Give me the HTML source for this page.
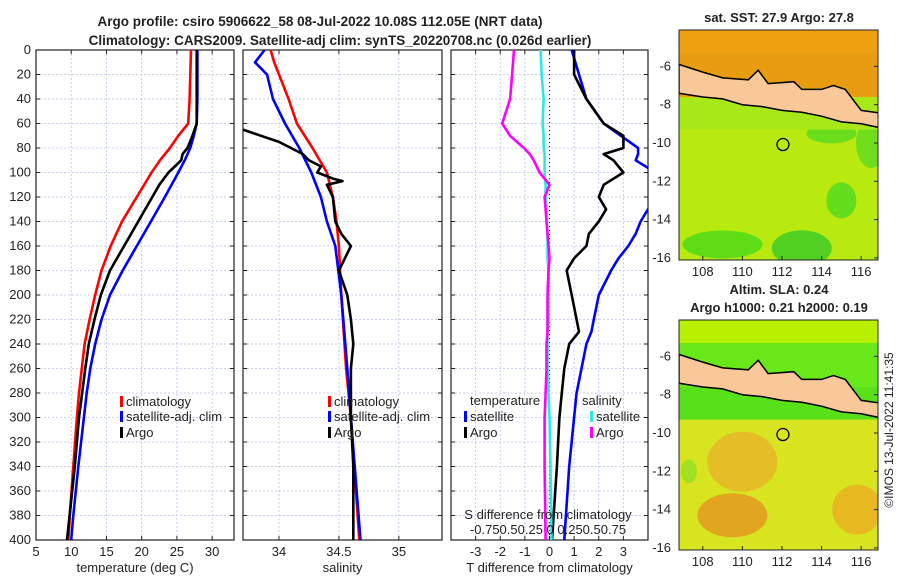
<!DOCTYPE html>
<html><head><meta charset="utf-8"><style>
body{margin:0;background:#fff}
svg{display:block;font-family:"Liberation Sans","DejaVu Sans",sans-serif}
</style></head><body>
<svg id="c" width="900" height="580" xmlns="http://www.w3.org/2000/svg"></svg>
<script>
// ---- data ----
const tDepth = [0,20,40,60,70,80,90,100,120,140,160,180,200,220,240,260,280,300,340,380,400];
const tClim  = [27.0,26.9,26.8,26.6,25.2,24.0,22.6,21.4,19.3,17.2,15.6,14.3,13.4,12.6,11.9,11.5,11.1,10.8,10.3,9.8,9.6];
const tSat   = [27.9,27.9,27.9,27.8,27.4,26.9,26.1,25.2,23.3,21.3,19.3,17.3,15.5,14.3,13.4,12.7,12.2,11.8,11.0,10.3,10.0];
const argoTDepth = [0,20,40,60,70,80,85,90,100,110,120,140,160,180,200,220,240,260,300,340,400];
const argoT  = [27.8,27.8,27.8,27.8,27.2,26.5,25.8,25.6,23.8,22.5,21.5,19.5,17.5,15.5,14.2,13.3,12.5,12.0,11.1,10.5,9.4];
const sDepth = [0,10,20,40,60,80,100,120,140,160,200,260,300,400];
const sClim  = [33.93,33.96,34.0,34.08,34.15,34.28,34.40,34.45,34.48,34.50,34.52,34.56,34.60,34.67];
const sSat   = [33.88,33.80,33.9,33.95,34.05,34.17,34.27,34.35,34.40,34.47,34.52,34.57,34.60,34.68];
const argoSDepth = [65,70,75,80,85,90,95,100,105,107,110,120,140,150,160,170,180,200,220,240,260,300,340,400];
const argoS  = [33.7,33.85,34.0,34.1,34.2,34.25,34.35,34.32,34.45,34.53,34.4,34.45,34.47,34.52,34.6,34.55,34.5,34.57,34.6,34.62,34.6,34.6,34.62,34.62];
const dDepth = [0,20,40,60,70,80,85,90,100,110,120,130,140,150,160,170,180,200,220,230,240,260,280,300,340,400];
const dTSat  = [0.9,1.2,1.5,2.2,2.9,3.6,3.6,3.5,4.3,4.6,4.4,4.0,3.7,3.5,3.2,2.8,2.5,2.0,1.8,1.7,1.5,1.3,1.1,1.0,0.8,0.6];
const dTArgo = [1.0,1.0,1.5,2.2,3.0,3.0,2.2,2.6,3.0,2.2,2.0,2.3,2.0,1.6,1.5,1.0,0.7,0.9,1.1,1.2,0.8,0.6,0.5,0.4,0.3,0.1];
const dSSat  = [-0.09,-0.08,-0.06,-0.07,-0.06,-0.06,-0.05,-0.05,-0.05,-0.04,-0.04,-0.03,-0.03,-0.02,-0.02,-0.02,-0.01,-0.01,-0.01,-0.02,-0.02,-0.02,-0.01,0.0,0.01,0.02];
const dSArgo = [-0.36,-0.38,-0.4,-0.48,-0.4,-0.26,-0.2,-0.16,-0.1,0.0,-0.05,-0.04,-0.03,-0.02,-0.01,0.0,-0.01,-0.02,-0.02,-0.02,-0.03,-0.03,-0.04,-0.05,-0.05,-0.04];
const depthTicks = [0,20,40,60,80,100,120,140,160,180,200,220,240,260,280,300,320,340,360,380,400];
const tTicks = [5,10,15,20,25,30];
const sTicks = [34,34.5,35];
const dTTicks = [-3,-2,-1,0,1,2,3];
const latTicks = [-6,-8,-10,-12,-14,-16];
const lonTicks = [108,110,112,114,116];

const svg=document.getElementById('c');
const NS='http://www.w3.org/2000/svg';
function mk(tag,attrs,name,parent){const e=document.createElementNS(NS,tag);for(const k in attrs)e.setAttribute(k,attrs[k]);


(parent||svg).appendChild(e);return e;}
function txt(x,y,s,name,o){o=o||{};const t=mk('text',{x:x,y:y,'font-size':o.fs||13,'text-anchor':o.a||'middle','font-weight':o.b?'bold':'normal',fill:'#222'},name);if(o.tr)t.setAttribute('transform',o.tr);t.textContent=s;return t;}

const Y0=50,Y1=540;
const yD=d=>Y0+(d/400)*(Y1-Y0);
function panel(x0,x1,xmin,xmax,xticks,label,name){
  const g=mk('g',{},name);
  const xs=v=>x0+(v-xmin)/(xmax-xmin)*(x1-x0);
  depthTicks.forEach(d=>{mk('line',{x1:x0,x2:x1,y1:yD(d),y2:yD(d),stroke:'#b8c4e8','stroke-dasharray':'2,2','stroke-width':0.8},'grid-line-y',g);
    mk('line',{x1:x0,x2:x0+4,y1:yD(d),y2:yD(d),stroke:'#222'},'y-tick',g);mk('line',{x1:x1,x2:x1-4,y1:yD(d),y2:yD(d),stroke:'#222'},'y-tick',g);});
  xticks.forEach(v=>{const x=xs(v);mk('line',{x1:x,x2:x,y1:Y0,y2:Y1,stroke:'#b8c4e8','stroke-dasharray':'2,2','stroke-width':0.8},'grid-line-x',g);
    mk('line',{x1:x,x2:x,y1:Y1,y2:Y1-4,stroke:'#222'},'x-tick',g);mk('line',{x1:x,x2:x,y1:Y0,y2:Y0+4,stroke:'#222'},'x-tick',g);
    txt(x,556,String(v),'x-tick-label');});
  mk('rect',{x:x0,y:Y0,width:x1-x0,height:Y1-Y0,fill:'none',stroke:'#222','stroke-width':1.2},'plot-frame',g);
  txt((x0+x1)/2,572,label,'x-axis-title');
  return xs;
}
const defs=mk('defs',{},'defs');
[[36,234,'c1'],[243,442,'c2'],[451,648,'c3']].forEach(c=>{const cp=mk('clipPath',{id:c[2]},'clip',defs);mk('rect',{x:c[0],y:Y0,width:c[1]-c[0],height:Y1-Y0},'clip-rect',cp);});
[[30,'m1'],[320,'m2']].forEach(c=>{const cp=mk('clipPath',{id:c[1]},'clip',defs);mk('rect',{x:679,y:c[0],width:199,height:230},'clip-rect',cp);});

function lineIn(g,xs,vals,deps,color,name){const pts=vals.map((v,i)=>xs(v).toFixed(1)+','+yD(deps[i]).toFixed(1)).join(' ');mk('polyline',{points:pts,fill:'none',stroke:color,'stroke-width':2.6,'stroke-linejoin':'round'},name,g);}

// panel 1
const xT=panel(36,234,5,33.1,tTicks,'temperature (deg C)','temperature-panel');
depthTicks.forEach(d=>txt(31,yD(d)+4,String(d),'y-tick-label',{a:'end'}));
const g1=mk('g',{'clip-path':'url(#c1)'},'temperature-lines');
lineIn(g1,xT,tClim,tDepth,'#f00','climatology-temp-line');
lineIn(g1,xT,tSat,tDepth,'#00f','satellite-temp-line');
lineIn(g1,xT,argoT,argoTDepth,'#000','argo-temp-line');

// panel 2
const xS=panel(243,442,33.7,35.36,sTicks,'salinity','salinity-panel');
const g2=mk('g',{'clip-path':'url(#c2)'},'salinity-lines');
lineIn(g2,xS,sClim,sDepth,'#f00','climatology-sal-line');
lineIn(g2,xS,sSat,sDepth,'#00f','satellite-sal-line');
lineIn(g2,xS,argoS,argoSDepth,'#000','argo-sal-line');

// panel 3
const xD=panel(451,648,-4,4,dTTicks,'T difference from climatology','difference-panel');
const xSD=v=>xD(v*4);
const g3=mk('g',{'clip-path':'url(#c3)'},'difference-lines');
mk('line',{x1:xD(0),x2:xD(0),y1:Y0,y2:Y1,stroke:'#333','stroke-dasharray':'1,3','stroke-width':1.2},'zero-line',g3);
lineIn(g3,xD,dTSat,dDepth,'#00f','satellite-tdiff-line');
lineIn(g3,xD,dTArgo,dDepth,'#000','argo-tdiff-line');
lineIn(g3,xSD,dSSat,dDepth,'#2ee8e8','satellite-sdiff-line');
lineIn(g3,xSD,dSArgo,dDepth,'#f0f','argo-sdiff-line');
txt(548,519,'S difference from climatology','s-axis-title');
txt(548,534,'-0.750.50.25 0  0.250.50.75','s-tick-labels');

// legends
function leg(x,y,color,label,name){mk('rect',{x:x,y:y-10,width:3,height:11,fill:color},name+'-marker');txt(x+6,y,label,name,{a:'start'});}
leg(120,406,'#f00','climatology','legend-climatology');
leg(120,421,'#00f','satellite-adj. clim','legend-satellite');
leg(120,437,'#000','Argo','legend-argo');
leg(328,406,'#f00','climatology','legend-climatology-sal');
leg(328,421,'#00f','satellite-adj. clim','legend-satellite-sal');
leg(328,437,'#000','Argo','legend-argo-sal');
txt(470,405,'temperature','legend-temperature-title',{a:'start'});
leg(464,421,'#00f','satellite','legend-t-satellite');
leg(464,437,'#000','Argo','legend-t-argo');
txt(582,405,'salinity','legend-salinity-title',{a:'start'});
leg(590,421,'#2ee8e8','satellite','legend-s-satellite');
leg(590,437,'#f0f','Argo','legend-s-argo');

// titles
txt(320,26,'Argo profile: csiro 5906622_58 08-Jul-2022 10.08S 112.05E (NRT data)','title-line-1',{b:true,fs:13.5});
txt(340,45,'Climatology: CARS2009. Satellite-adj clim: synTS_20220708.nc (0.026d earlier)','title-line-2',{b:true,fs:13.5});

// maps
function map(top,north,northBand,south,fringe,patch,title,name,clip){
  const x0=679,x1=878,bot=top+230;
  const g=mk('g',{},name);
  const gc=mk('g',{'clip-path':'url(#'+clip+')'},name+'-content',g);
  const lx=v=>x0+(v-106.8)*19.8;
  const ly=v=>top+(-4.1-v)*19.15;
  mk('rect',{x:x0,y:top,width:x1-x0,height:bot-top,fill:south},'map-sea-south',gc);
  patch.forEach(p=>mk('ellipse',{cx:lx(p[0]),cy:ly(p[1]),rx:p[2],ry:p[3],fill:p[4],opacity:0.75},'map-patch',gc));
  mk('rect',{x:x0,y:ly(-7.6),width:x1-x0,height:ly(-9.3)-ly(-7.6),fill:fringe},'map-sea-fringe',gc);
  mk('rect',{x:x0,y:top,width:x1-x0,height:ly(-7.6)-top,fill:north},'map-sea-north',gc);
  mk('rect',{x:x0,y:ly(-5.3),width:x1-x0,height:ly(-7.6)-ly(-5.3),fill:northBand},'map-sea-north-band',gc);
  const land=[[106.8,-5.9],[108,-6.3],[109,-6.6],[110.3,-6.7],[110.8,-6.2],[111.3,-6.9],[112.6,-6.8],[113,-7.2],[114,-7.2],[114.6,-7.0],[115.2,-7.2],[116,-8.3],[117.4,-8.5],[117.4,-9.3],[116,-9.0],[115,-8.9],[114,-8.6],[113,-8.4],[112,-8.3],[111,-8.1],[110,-8.0],[109,-7.7],[108,-7.6],[106.8,-7.4]];
  mk('polygon',{points:land.map(p=>lx(p[0]).toFixed(1)+','+ly(p[1]).toFixed(1)).join(' '),fill:'#f8c898',stroke:'#000','stroke-width':1.5},'map-land-java',gc);
  mk('circle',{cx:lx(112.05),cy:ly(-10.08),r:6,fill:'none',stroke:'#000','stroke-width':1.3},'argo-location-marker',gc);
  mk('rect',{x:x0,y:top,width:x1-x0,height:bot-top,fill:'none',stroke:'#222'},'map-frame',g);
  latTicks.forEach(v=>{mk('line',{x1:x1,x2:x1-4,y1:ly(v),y2:ly(v),stroke:'#222'},'lat-tick',g);txt(x0-8,ly(v)+4,String(v),'lat-tick-label',{a:'end'});});
  lonTicks.forEach(v=>{mk('line',{x1:lx(v),x2:lx(v),y1:bot,y2:bot-4,stroke:'#222'},'lon-tick',g);txt(lx(v),bot+16,String(v),'lon-tick-label');});
  title.forEach((t,i)=>txt(779,top-8-(title.length-1-i)*18,t,'map-title',{b:true}));
}
map(30,'#eea010','#e89c10','#b8ea10','#a8e818',[[109,-15.3,40,14,'#40d818'],[113,-15.5,30,18,'#30c828'],[115,-13,15,18,'#48d820'],[116.5,-10,15,25,'#58d820'],[114.5,-9.5,25,10,'#50d820']],['sat. SST: 27.9 Argo: 27.8'],'sst-map','m1');
map(320,'#b8f000','#68e818','#d8e420','#58e018',[[110,-11.5,35,30,'#eab028'],[109.5,-14.3,35,22,'#e69020'],[115.8,-14,25,25,'#eeaa20'],[107.3,-12,8,12,'#90e020']],['Altim. SLA: 0.24','Argo h1000: 0.21 h2000: 0.19'],'sla-map','m2');

txt(893,430,'©IMOS 13-Jul-2022 11:41:35','imos-credit',{tr:'rotate(-90 893 430)',fs:12});
</script>
</body></html>
